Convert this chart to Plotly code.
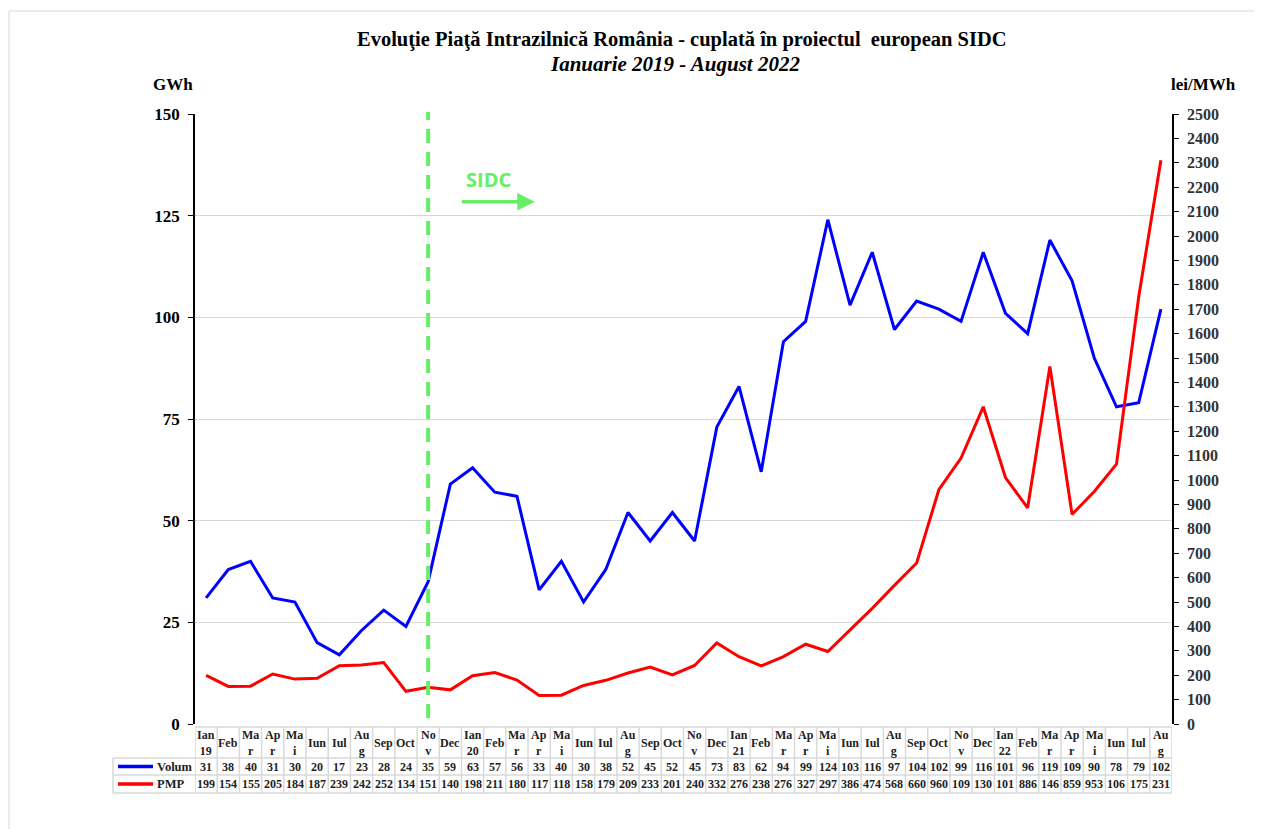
import plotly.graph_objects as go

months = ["Ian<br>19", "Feb", "Ma<br>r", "Ap<br>r", "Ma<br>i", "Iun", "Iul", "Au<br>g", "Sep", "Oct", "No<br>v", "Dec",
          "Ian<br>20", "Feb", "Ma<br>r", "Ap<br>r", "Ma<br>i", "Iun", "Iul", "Au<br>g", "Sep", "Oct", "No<br>v", "Dec",
          "Ian<br>21", "Feb", "Ma<br>r", "Ap<br>r", "Ma<br>i", "Iun", "Iul", "Au<br>g", "Sep", "Oct", "No<br>v", "Dec",
          "Ian<br>22", "Feb", "Ma<br>r", "Ap<br>r", "Ma<br>i", "Iun", "Iul", "Au<br>g"]

volum = [31, 38, 40, 31, 30, 20, 17, 23, 28, 24, 35, 59,
         63, 57, 56, 33, 40, 30, 38, 52, 45, 52, 45, 73,
         83, 62, 94, 99, 124, 103, 116, 97, 104, 102, 99, 116,
         101, 96, 119, 109, 90, 78, 79, 102]

pmp = [199, 154, 155, 205, 184, 187, 239, 242, 252, 134, 151, 140,
       198, 211, 180, 117, 118, 158, 179, 209, 233, 201, 240, 332,
       276, 238, 276, 327, 297, 386, 474, 568, 660, 960, 1090, 1300,
       1010, 886, 1465, 859, 953, 1065, 1750, 2310]

# labels as printed in the table (truncated to 3 characters in the source)
volum_labels = [str(v) for v in volum]
pmp_labels = [str(v)[:3] for v in pmp]

left_ticks = [0, 25, 50, 75, 100, 125, 150]
right_ticks = list(range(0, 2501, 100))
sidc_month = 10

x = list(range(len(months)))

SERIF = "Liberation Serif, Times New Roman, serif"
fig = go.Figure()
fig.add_trace(go.Scatter(x=x, y=volum, mode="lines", name="Volum",
                         line=dict(color="#0000FF", width=3), yaxis="y"))
fig.add_trace(go.Scatter(x=x, y=pmp, mode="lines", name="PMP",
                         line=dict(color="#FF0000", width=3), yaxis="y2"))

OFF = 8  # page body margin
W, H = 1262 - OFF, 829 - OFF
L, R, T, B = 195, 1172, 114, 724  # target page pixel positions of the plot area
def px(xp):
    return (xp - L) / (R - L)
def py(yp):
    return (B - yp) / (B - T)

fig.update_layout(
    width=W, height=H,
    margin=dict(l=L - OFF, r=1262 - R, t=T - OFF, b=829 - B),
    paper_bgcolor="white", plot_bgcolor="white",
    showlegend=False,
    xaxis=dict(range=[-0.5, len(months) - 0.5], showticklabels=False, showgrid=False,
               zeroline=False, showline=False, ticks=""),
    yaxis=dict(range=[0, 150], tickvals=left_ticks, showgrid=True, gridcolor="#D9D9D9", gridwidth=1,
               zeroline=False, showline=True, linecolor="black", linewidth=1.5,
               ticks="outside", ticklen=5, tickcolor="black",
               tickfont=dict(family=SERIF, size=17, color="black", weight="bold"),
               ticklabelstandoff=5),
    yaxis2=dict(range=[0, 2500], tickvals=right_ticks, overlaying="y", side="right",
                showgrid=False, zeroline=False, showline=True, linecolor="black", linewidth=1.5,
                ticks="outside", ticklen=5, tickcolor="black",
                tickfont=dict(family=SERIF, size=16, color="#333333", weight="bold"),
                ticklabelstandoff=5),
)

shapes = []
annotations = []

# outer frame
shapes.append(dict(type="rect", xref="paper", yref="paper", x0=px(9), x1=px(1275), y0=py(840), y1=py(11),
                   line=dict(color="#D9D9D9", width=1), layer="below"))

# SIDC vertical dashed line
shapes.append(dict(type="line", xref="x", yref="paper", x0=sidc_month, x1=sidc_month, y0=py(718), y1=py(112),
                   line=dict(color="#66EE66", width=4, dash="14px,9px")))

# table grid
gc = "#D9D9D9"
rows_y = [py(727), py(758), py(775), py(793)]
for yy in rows_y:
    shapes.append(dict(type="line", xref="x", yref="paper", x0=-0.5, x1=len(months) - 0.5, y0=yy, y1=yy,
                       line=dict(color=gc, width=1.5)))
for i in range(len(months) + 1):
    shapes.append(dict(type="line", xref="x", yref="paper", x0=i - 0.5, x1=i - 0.5, y0=rows_y[0], y1=rows_y[-1],
                       line=dict(color=gc, width=1.5)))
# legend column
for yy in rows_y[1:]:
    shapes.append(dict(type="line", xref="paper", yref="paper", x0=px(113), x1=0, y0=yy, y1=yy,
                       line=dict(color=gc, width=1.5)))
shapes.append(dict(type="line", xref="paper", yref="paper", x0=px(113), x1=px(113), y0=rows_y[1], y1=rows_y[3],
                   line=dict(color=gc, width=1.5)))

row_c = [(rows_y[0] + rows_y[1]) / 2, (rows_y[1] + rows_y[2]) / 2, (rows_y[2] + rows_y[3]) / 2]
# legend samples
for yy, col, name in [(row_c[1], "#0000FF", "Volum"), (row_c[2], "#FF0000", "PMP")]:
    shapes.append(dict(type="line", xref="paper", yref="paper", x0=px(118), x1=px(153), y0=yy, y1=yy,
                       line=dict(color=col, width=3.5)))
    annotations.append(dict(xref="paper", yref="paper", x=px(155), y=yy, text=name, showarrow=False,
                            xanchor="left", yanchor="middle",
                            font=dict(family=SERIF, size=12.5, color="#222222", weight="bold")))

tf = dict(family=SERIF, size=12, color="#222222", weight="bold")
for i in x:
    for yy, txt in [(row_c[0], months[i]), (row_c[1], volum_labels[i]), (row_c[2], pmp_labels[i])]:
        annotations.append(dict(xref="x", yref="paper", x=i, y=yy, text=txt, showarrow=False,
                                xanchor="center", yanchor="middle", font=tf))

# titles
annotations.append(dict(xref="paper", yref="paper", x=px(682), y=py(40),
                        text="Evoluţie Piaţă Intrazilnică România - cuplată în proiectul  european SIDC",
                        showarrow=False, xanchor="center", yanchor="middle",
                        font=dict(family=SERIF, size=20.5, color="black", weight="bold")))
annotations.append(dict(xref="paper", yref="paper", x=px(675), y=py(64),
                        text="<i>Ianuarie 2019 - August 2022</i>",
                        showarrow=False, xanchor="center", yanchor="middle",
                        font=dict(family=SERIF, size=21, color="black", weight="bold")))
annotations.append(dict(xref="paper", yref="paper", x=px(173), y=py(85), text="GWh", showarrow=False,
                        xanchor="center", yanchor="middle",
                        font=dict(family=SERIF, size=17, color="black", weight="bold")))
annotations.append(dict(xref="paper", yref="paper", x=px(1203), y=py(85), text="lei/MWh", showarrow=False,
                        xanchor="center", yanchor="middle",
                        font=dict(family=SERIF, size=17, color="black", weight="bold")))

# SIDC label and arrow
annotations.append(dict(xref="x", yref="y", x=12.7, y=133.8, text="SIDC", showarrow=False,
                        xanchor="center", yanchor="middle",
                        font=dict(family="Open Sans, Arial, sans-serif", size=20, color="#66EE66", weight="bold")))
annotations.append(dict(xref="x", yref="y", x=14.8, y=128.4, ax=11.45, ay=128.4, axref="x", ayref="y",
                        text="", showarrow=True, arrowhead=2, arrowsize=1, arrowwidth=3.5, arrowcolor="#66EE66"))

fig.update_layout(shapes=shapes, annotations=annotations)
fig.write_html("out.html")
